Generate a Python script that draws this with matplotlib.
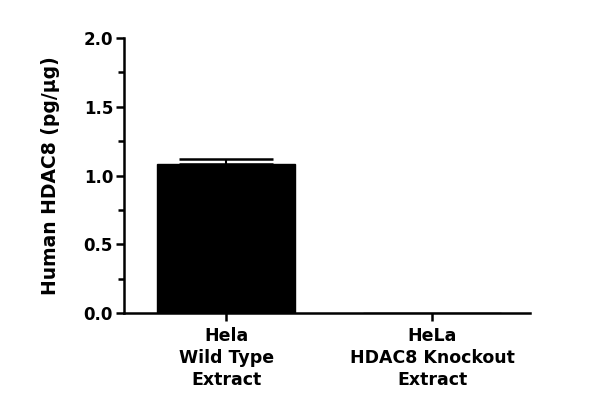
import numpy as np
import matplotlib.pyplot as plt
from matplotlib.ticker import MultipleLocator

# HDAC8 levels
categories = ['Hela\nWild Type\nExtract', 'HeLa\nHDAC8 Knockout\nExtract']
values = [1.085, 0.0]
errors = [0.035, 0.0]

plt.rcParams['font.family'] = ['DejaVu Sans']
plt.rcParams['font.weight'] = 'bold'

fig = plt.figure(figsize=(6, 4.18), dpi=100)
ax = fig.add_axes([0.207, 0.251, 0.676, 0.658])

x = np.arange(len(categories))
ax.bar(x, values, width=0.67, color='black', edgecolor='black')
ax.errorbar(x[:1], values[:1], yerr=[[0], errors[:1]], fmt='none',
            ecolor='black', elinewidth=1.5, capsize=34, capthick=1.8)

ax.set_xlim(-0.495, 1.475)
ax.set_ylim(0, 2.0)
ax.yaxis.set_major_locator(MultipleLocator(0.5))
ax.yaxis.set_minor_locator(MultipleLocator(0.25))
ax.yaxis.set_major_formatter(plt.FuncFormatter(lambda v, p: f'{v:.1f}'))
ax.set_xticks(x)
ax.set_xticklabels(categories, fontsize=12.5, fontweight='bold', linespacing=1.3)
ax.tick_params(axis='y', labelsize=12, width=1.8, length=6, pad=2)
ax.tick_params(axis='y', which='minor', width=1.8, length=4)
ax.tick_params(axis='x', width=1.8, length=6, pad=4)
for lab in ax.get_yticklabels():
    lab.set_fontweight('bold')
ax.set_ylabel('Human HDAC8 (pg/µg)', fontsize=13.5, fontweight='bold', labelpad=17)

for s in ['top', 'right']:
    ax.spines[s].set_visible(False)
for s in ['left', 'bottom']:
    ax.spines[s].set_linewidth(1.8)

plt.savefig('out.png', dpi=100)
